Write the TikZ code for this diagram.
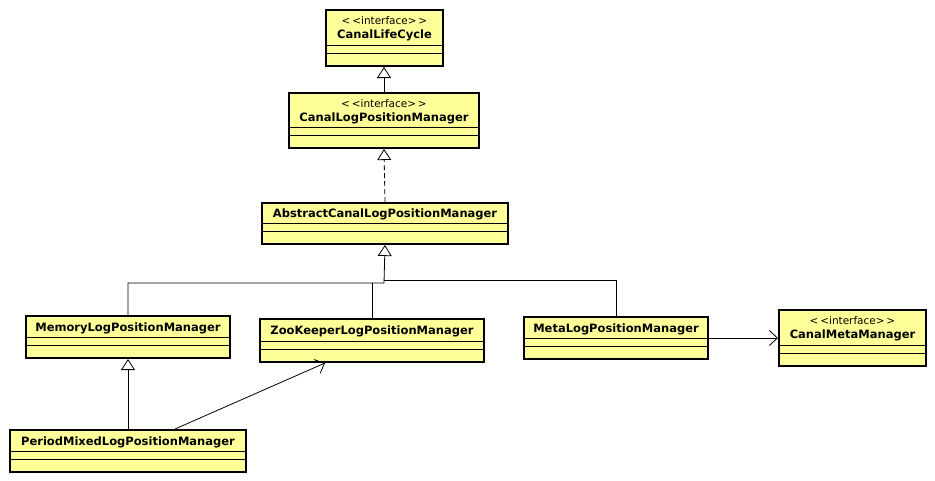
\documentclass[tikz,border=0pt]{standalone}
\usepackage{fontspec}
\setmainfont{DejaVu Sans}
\usetikzlibrary{arrows.meta,calc}

\definecolor{classfill}{RGB}{255,255,153}

\tikzset{
  cls/.style={draw, line width=2pt, fill=classfill, inner sep=0pt},
  compline/.style={line width=0.9pt},
  clsname/.style={font=\bfseries\fontsize{11.5}{14}\selectfont, align=center, inner sep=0pt},
  inherit/.style={-{Triangle[open,fill=white,length=11pt,width=14pt]}, line width=0.8pt},
  realize/.style={inherit, dash pattern=on 5pt off 3pt},
  assoc/.style={-{Straight Barb[length=8pt,width=15pt]}, line width=0.8pt},
}

% class box: name, x, y, width, head height, label
\newcommand{\umlclass}[6]{%
  \node[cls, anchor=north west, minimum width=#4pt, minimum height=#5pt+20pt] (#1) at (#2,#3) {};
  \node[clsname] (#1-name) at ($(#1.north)+(0,#5/2+2)$) {#6};
  \draw[compline] ($(#1.north west)+(0,#5)$) -- ($(#1.north east)+(0,#5)$);
  \draw[compline] ($(#1.north west)+(0,#5+8)$) -- ($(#1.north east)+(0,#5+8)$);
}
\newcommand{\stereo}{{\mdseries\fontsize{10.5}{16}\selectfont <\,<interface>\,>}\\}

\begin{document}
\begin{tikzpicture}[x=1pt,y=-1pt]

\fill[white] (0,0) rectangle (935,480);
\useasboundingbox (0,0) rectangle (935,480);

\umlclass{lifecycle}{325}{9}{117}{36}{\stereo CanalLifeCycle}
\umlclass{logpos}{288}{92}{190}{35}{\stereo CanalLogPositionManager}
\umlclass{abstract}{261}{202}{246}{21}{AbstractCanalLogPositionManager}
\umlclass{memory}{25}{315}{204}{22}{MemoryLogPositionManager}
\umlclass{zoo}{259}{318}{224}{23}{ZooKeeperLogPositionManager}
\umlclass{meta}{523}{316}{184}{22}{MetaLogPositionManager}
\umlclass{metamgr}{778}{309}{147}{36}{\stereo CanalMetaManager}
\umlclass{period}{9}{429}{236}{22}{PeriodMixedLogPositionManager}

\coordinate (joinl) at (384,283);
\coordinate (joinr) at (384,280);

\draw[inherit] (logpos.north) -- (logpos.north |- lifecycle.south);
\draw[realize] (abstract.north) -- (logpos.south);

\draw[inherit] (memory.north) |- (joinl) -- (abstract.south);
\draw[line width=0.8pt] (meta.north) |- (joinr);
\draw[line width=0.8pt] (zoo.north) -- (zoo.north |- joinl);

\draw[inherit] (period.north) -- (memory.south);
\draw[assoc] ($(period.north west)+(166,0)$) -- ($(zoo.south west)+(66,0)$);
\draw[assoc] (meta.east) -- (meta.east -| metamgr.west);

\end{tikzpicture}
\end{document}
